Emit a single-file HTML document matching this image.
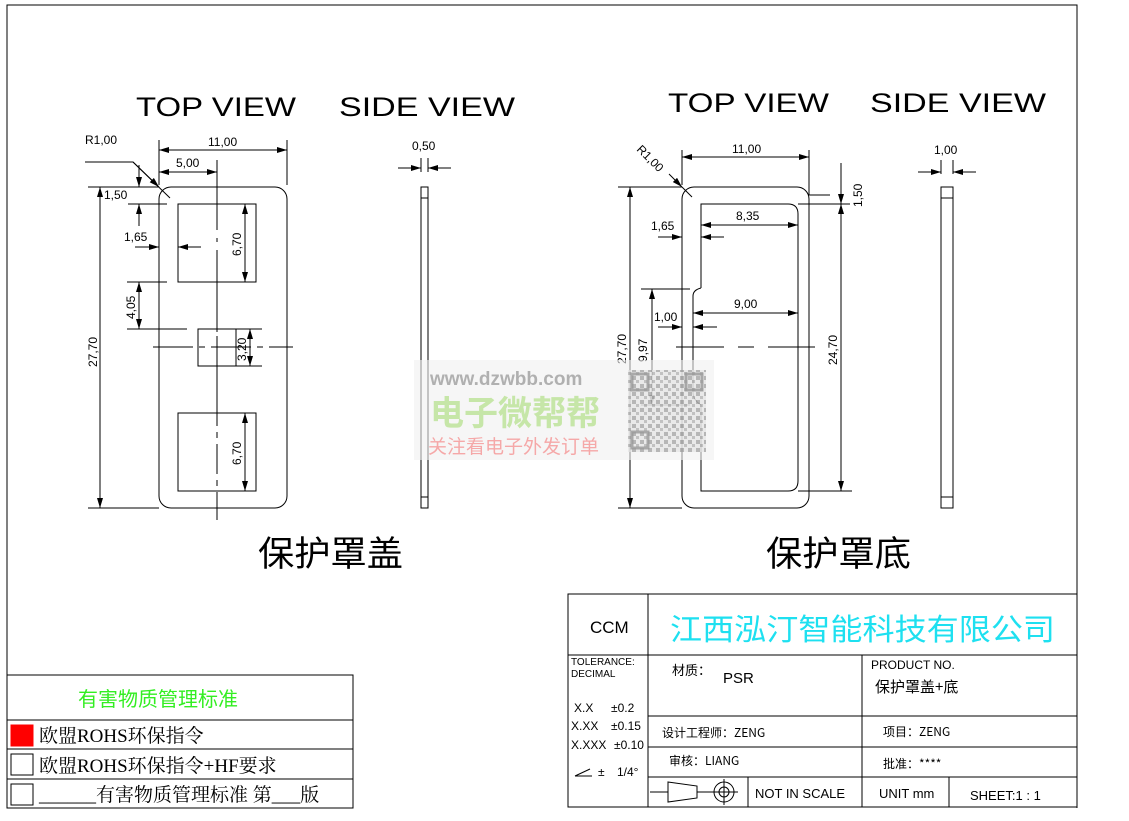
<!DOCTYPE html>
<html><head><meta charset="utf-8"><style>
html,body{margin:0;padding:0;background:#fff;}
svg{display:block;}
text{font-family:"Liberation Sans","Noto Sans CJK SC",sans-serif;fill:#000;}
.d{font-size:12px;}
.t{font-size:27px;font-weight:normal;}
.cj{font-family:"Noto Sans CJK SC","WenQuanYi Zen Hei",sans-serif;}
.sf{font-family:"Liberation Serif","Noto Serif CJK SC",serif;}
</style></head><body>
<svg width="1129" height="821" viewBox="0 0 1129 821" xmlns="http://www.w3.org/2000/svg">
<defs>
<marker id="a" viewBox="0 0 10 6" refX="10" refY="3" markerWidth="10" markerHeight="6" orient="auto-start-reverse" markerUnits="userSpaceOnUse"><path d="M0,0 L10,3 L0,6 z" fill="#000"/></marker>
<pattern id="qr" width="8" height="8" patternUnits="userSpaceOnUse"><rect width="8" height="8" fill="#e4e4e4"/><rect x="0" y="0" width="4" height="4" fill="#9a9a9a"/><rect x="4" y="4" width="3" height="3" fill="#aaa"/></pattern>
</defs>
<g stroke="#000" fill="none" stroke-width="1">
<path d="M7,675 V5 H1077 V808"/>
<rect x="159" y="187" width="128" height="321" rx="12"/>
<rect x="178" y="204" width="78" height="78"/>
<rect x="198" y="329" width="38" height="37"/>
<rect x="178" y="413" width="78" height="78"/>
<path d="M217,160 V430" stroke-dasharray="70,8,4,8"/>
<path d="M217,300 V520" stroke-dasharray="30,6,6,6"/>
<path d="M153,347 H293" stroke-dasharray="40,6,6,6"/>
<path d="M159,140 V185 M287,140 V185"/>
<path d="M159,150 H287" marker-start="url(#a)" marker-end="url(#a)"/>
<path d="M159,172 H217" marker-start="url(#a)" marker-end="url(#a)"/>
<path d="M85,162 H133 L170,198"/>
<path d="M133,162 L159,187" marker-end="url(#a)"/>
<path d="M88,187 H159 M128,204 H167"/>
<path d="M139,165 V187" marker-end="url(#a)"/>
<path d="M139,226 V204" marker-end="url(#a)"/>
<path d="M135,247 H159" marker-end="url(#a)"/>
<path d="M201,247 H178" marker-end="url(#a)"/>
<path d="M127,282 H167 M127,329 H187"/>
<path d="M139,282 V329" marker-start="url(#a)" marker-end="url(#a)"/>
<path d="M100,187 V508" marker-start="url(#a)" marker-end="url(#a)"/>
<path d="M88,508 H159"/>
<path d="M245,204 V282" marker-start="url(#a)" marker-end="url(#a)"/>
<path d="M245,413 V491" marker-start="url(#a)" marker-end="url(#a)"/>
<path d="M236,329 H262 M236,366 H262"/>
<path d="M250,329 V366" marker-start="url(#a)" marker-end="url(#a)"/>
<rect x="421" y="187" width="7" height="321"/>
<path d="M421,198 H428 M421,497 H428"/>
<path d="M421,158 V172 M428,158 V172"/>
<path d="M398,168 H421" marker-end="url(#a)"/>
<path d="M451,168 H428" marker-end="url(#a)"/>
<rect x="682" y="187" width="127" height="321" rx="12"/>
<path d="M701,288 V204 H788 Q798,204 798,214 V481 Q798,491 788,491 H701 V405 Q693,400 693,392 V296 Q693,290 701,288"/>
<path d="M676,347 H724 M738,347 H754 M768,347 H815"/>
<path d="M682,150 V185 M809,150 V195 H830"/>
<path d="M682,157 H809" marker-start="url(#a)" marker-end="url(#a)"/>
<path d="M669,174 L682,187" marker-end="url(#a)"/>
<path d="M682,187 L692,197"/>
<path d="M798,204 H850 M798,491 H852"/>
<path d="M841,163 V204" marker-end="url(#a)"/>
<path d="M841,204 V491" marker-start="url(#a)" marker-end="url(#a)"/>
<path d="M618,187 H682 M618,508 H682"/>
<path d="M630,187 V508" marker-start="url(#a)" marker-end="url(#a)"/>
<path d="M701,225 H798" marker-start="url(#a)" marker-end="url(#a)"/>
<path d="M658,237 H682" marker-end="url(#a)"/>
<path d="M724,237 H701" marker-end="url(#a)"/>
<path d="M693,313 H798" marker-start="url(#a)" marker-end="url(#a)"/>
<path d="M658,327 H682" marker-end="url(#a)"/>
<path d="M717,327 H693" marker-end="url(#a)"/>
<path d="M641,289 H690 M641,405 H690"/>
<path d="M652,289 V405" marker-start="url(#a)" marker-end="url(#a)"/>
<rect x="941" y="187" width="12" height="321"/>
<path d="M941,198 H953 M941,497 H953"/>
<path d="M941,160 V174 M953,160 V174"/>
<path d="M918,172 H941" marker-end="url(#a)"/>
<path d="M976,172 H953" marker-end="url(#a)"/>
<rect x="568" y="594" width="509" height="213"/>
<path d="M648,594 V807 M568,655 H1077 M648,716 H1077 M648,747 H1077 M648,777 H1077 M862,655 V807 M748,777 V807 M949,777 V807"/>
<rect x="7" y="675" width="346" height="133"/>
<path d="M7,720 H353 M7,749 H353 M7,779 H353"/>
<rect x="11" y="725" width="22" height="21" fill="#f00" stroke="#f00"/>
<rect x="11" y="754" width="22" height="21"/>
<rect x="11" y="784" width="22" height="21"/>
<path d="M650,792 H668 M668,782 L697,786 V798 L668,802 Z M697,792 H712"/>
<circle cx="724" cy="792" r="10"/><circle cx="724" cy="792" r="5"/>
<path d="M712,792 H738 M724,779 V805"/>
<path d="M575,776 L590,769 M575,776 H592"/>
</g>
<text class="t" x="136" y="116" textLength="160" lengthAdjust="spacingAndGlyphs">TOP VIEW</text>
<text class="t" x="339" y="116" textLength="176" lengthAdjust="spacingAndGlyphs">SIDE VIEW</text>
<text class="t" x="668" y="112" textLength="161" lengthAdjust="spacingAndGlyphs">TOP VIEW</text>
<text class="t" x="870" y="112" textLength="176" lengthAdjust="spacingAndGlyphs">SIDE VIEW</text>
<text class="d" x="85" y="144">R1,00</text>
<text class="d" x="208" y="146">11,00</text>
<text class="d" x="176" y="167">5,00</text>
<text class="d" x="104" y="199">1,50</text>
<text class="d" x="124" y="241">1,65</text>
<text class="d" x="135" y="319" transform="rotate(-90 135 319)">4,05</text>
<text class="d" x="97" y="367" transform="rotate(-90 97 367)">27,70</text>
<text class="d" x="241" y="256" transform="rotate(-90 241 256)">6,70</text>
<text class="d" x="241" y="465" transform="rotate(-90 241 465)">6,70</text>
<text class="d" x="246" y="361" transform="rotate(-90 246 361)">3,20</text>
<text class="d" x="412" y="150">0,50</text>
<text class="d" x="732" y="153">11,00</text>
<text class="d" x="636" y="150" transform="rotate(45 636 150)">R1,00</text>
<text class="d" x="862" y="207" transform="rotate(-90 862 207)">1,50</text>
<text class="d" x="736" y="220">8,35</text>
<text class="d" x="651" y="230">1,65</text>
<text class="d" x="734" y="308">9,00</text>
<text class="d" x="654" y="321">1,00</text>
<text class="d" x="647" y="362" transform="rotate(-90 647 362)">9,97</text>
<text class="d" x="626" y="364" transform="rotate(-90 626 364)">27,70</text>
<text class="d" x="837" y="365" transform="rotate(-90 837 365)">24,70</text>
<text class="d" x="934" y="154">1,00</text>
<text class="cj" x="258" y="566" font-size="35" textLength="145" lengthAdjust="spacingAndGlyphs">保护罩盖</text>
<text class="cj" x="766" y="566" font-size="35" textLength="145" lengthAdjust="spacingAndGlyphs">保护罩底</text>
<rect x="414" y="360" width="300" height="100" fill="#f0f0f0" opacity="0.6"/>
<text x="430" y="385" font-size="19" font-weight="bold" style="fill:#b0b0b0">www.dzwbb.com</text>
<text class="cj" x="430" y="425" font-size="34" font-weight="bold" style="fill:#c6e6a8">电子微帮帮</text>
<text class="cj" x="428" y="453" font-size="19" style="fill:#f5a8a8">关注看电子外发订单</text>
<rect x="628" y="370" width="78" height="82" fill="url(#qr)" opacity="0.7"/>
<g fill="none" stroke="#999" stroke-width="3" opacity="0.8"><rect x="632" y="374" width="16" height="16"/><rect x="686" y="374" width="16" height="16"/><rect x="632" y="432" width="16" height="16"/></g>
<text x="590" y="633" font-size="17">CCM</text>
<text class="cj" x="670" y="640" font-size="30" textLength="385" lengthAdjust="spacingAndGlyphs" style="fill:#1ee0f0">江西泓汀智能科技有限公司</text>
<text x="571" y="665" font-size="10">TOLERANCE:</text>
<text x="571" y="677" font-size="10">DECIMAL</text>
<text x="574" y="712" font-size="12">X.X</text><text x="611" y="712" font-size="12">±0.2</text>
<text x="571" y="730" font-size="12">X.XX</text><text x="611" y="730" font-size="12">±0.15</text>
<text x="571" y="749" font-size="12">X.XXX</text><text x="614" y="749" font-size="12">±0.10</text>
<text x="598" y="776" font-size="12">±</text><text x="617" y="776" font-size="12">1/4°</text>
<text class="cj" x="672" y="675" font-size="13">材质：</text>
<text x="723" y="683" font-size="15">PSR</text>
<text x="871" y="669" font-size="12">PRODUCT NO.</text>
<text class="cj" x="875" y="692" font-size="15">保护罩盖+底</text>
<text class="cj" x="662" y="737" font-size="12">设计工程师：ZENG</text>
<text class="cj" x="883" y="736" font-size="12">项目：ZENG</text>
<text class="cj" x="669" y="765" font-size="12">审核：LIANG</text>
<text class="cj" x="883" y="768" font-size="12">批准：****</text>
<text x="755" y="798" font-size="13">NOT IN SCALE</text>
<text x="879" y="798" font-size="13">UNIT mm</text>
<text x="970" y="800" font-size="13">SHEET:1 : 1</text>
<text class="cj" x="78" y="706" font-size="20" style="fill:#33ee22">有害物质管理标准</text>
<text class="sf" x="39" y="742" font-size="19">欧盟ROHS环保指令</text>
<text class="sf" x="39" y="772" font-size="19">欧盟ROHS环保指令+HF要求</text>
<text class="sf" x="39" y="801" font-size="19">______有害物质管理标准 第___版</text>
</svg>
</body></html>
